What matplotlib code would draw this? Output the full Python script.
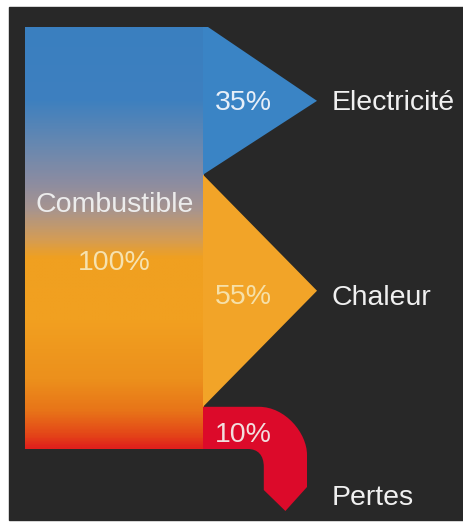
import numpy as np
import matplotlib.pyplot as plt
from matplotlib.patches import Polygon, Rectangle, PathPatch
from matplotlib.path import Path
from matplotlib.colors import LinearSegmentedColormap

# flows (percent of fuel input)
source_name = 'Combustible'
source_total = 100
flow_names = ['Electricité', 'Chaleur', 'Pertes']
flow_shares = [35, 55, 10]

plt.rcParams['font.family'] = ['Liberation Sans', 'DejaVu Sans']

W, H = 464, 522
fig = plt.figure(figsize=(W / 100, H / 100), dpi=100, facecolor='white')
ax = fig.add_axes([0, 0, 1, 1])
ax.set_xlim(0, W)
ax.set_ylim(H, 0)
ax.axis('off')

bg = '#282828'
ax.add_patch(Rectangle((9, 7), W - 9, 513, color=bg, zorder=0))

# layout of the main block (pixels)
x0, x1 = 25, 204
y_top, y_bot = 27, 449
tip_x = 317
scale = (y_bot - y_top) / source_total

edges = np.concatenate([[0], np.cumsum(flow_shares)]) * scale + y_top

# source block with vertical gradient blue -> orange -> red
stops = [(27, '#3a7fc0'), (100, '#3e80bf'), (145, '#6888b0'), (180, '#8a8ca2'),
         (208, '#a69490'), (238, '#d29c58'), (258, '#f0a020'), (320, '#f2a020'),
         (380, '#ec901c'), (412, '#e87418'), (435, '#e44818'), (449, '#e0201c')]
cmap = LinearSegmentedColormap.from_list(
    'fuel', [((y - y_top) / (y_bot - y_top), c) for y, c in stops])
grad = np.linspace(0, 1, 400).reshape(-1, 1)
ax.imshow(grad, cmap=cmap, extent=(x0, x1, y_bot, y_top), origin='upper',
          aspect='auto', interpolation='bilinear', zorder=1)

# electricity arrow
e0, e1 = edges[0], edges[1]
ax.add_patch(Polygon([(x1 - 1, e0), (x1 + 4, e0), (tip_x, (e0 + e1) / 2), (x1 - 1, e1)],
                     closed=True, color='#3a84c5', lw=0, zorder=2))
# heat arrow
h0, h1 = edges[1], edges[2]
ax.add_patch(Polygon([(x1 - 1, h0), (tip_x, (h0 + h1) / 2), (x1 - 1, h1)],
                     closed=True, color='#f2a428', lw=0, zorder=2))
# losses: bent arrow going down
l0, l1 = edges[2], edges[3]
band = l1 - l0
ox = x1 + 103
ix = ox - band - 1
r = 48
verts = [(x1 - 1, l0), (ox - r, l0), (ox - r * 0.45, l0), (ox, l0 + r * 0.55), (ox, l0 + r),
         (ox, 487), ((ox + ix) / 2, 511), (ix, 490), (ix, l1 + 18),
         (ix, l1 + 6), (ix - 6, l1), (ix - 16, l1),
         (x1 - 1, l1), (x1 - 1, l0)]
codes = [Path.MOVETO, Path.LINETO, Path.CURVE4, Path.CURVE4, Path.CURVE4,
         Path.LINETO, Path.LINETO, Path.LINETO, Path.LINETO,
         Path.CURVE4, Path.CURVE4, Path.CURVE4,
         Path.LINETO, Path.CLOSEPOLY]
ax.add_patch(PathPatch(Path(verts, codes), color='#dc0a2a', lw=0, zorder=2))

fs = 20.5
ax.text((x0 + x1) / 2, 212, source_name, fontsize=fs, color='#ececec',
        ha='center', va='baseline', zorder=3)
ax.text((x0 + x1) / 2, 270, f'{source_total}%', fontsize=fs, color='#f6e2b0',
        ha='center', va='baseline', zorder=3)

pct_y = [110, 304, 442]
pct_colors = ['#e6eef8', '#f6e0a8', '#f2dede']
name_y = [110, 305, 505]
for share, name, py, pc, ny in zip(flow_shares, flow_names, pct_y, pct_colors, name_y):
    ax.text(243, py, f'{share}%', fontsize=fs, color=pc, ha='center', va='baseline', zorder=3)
    ax.text(332, ny, name, fontsize=fs, color='#f0f0f0', ha='left', va='baseline', zorder=3)

fig.savefig('out.png', dpi=100, facecolor='white')
